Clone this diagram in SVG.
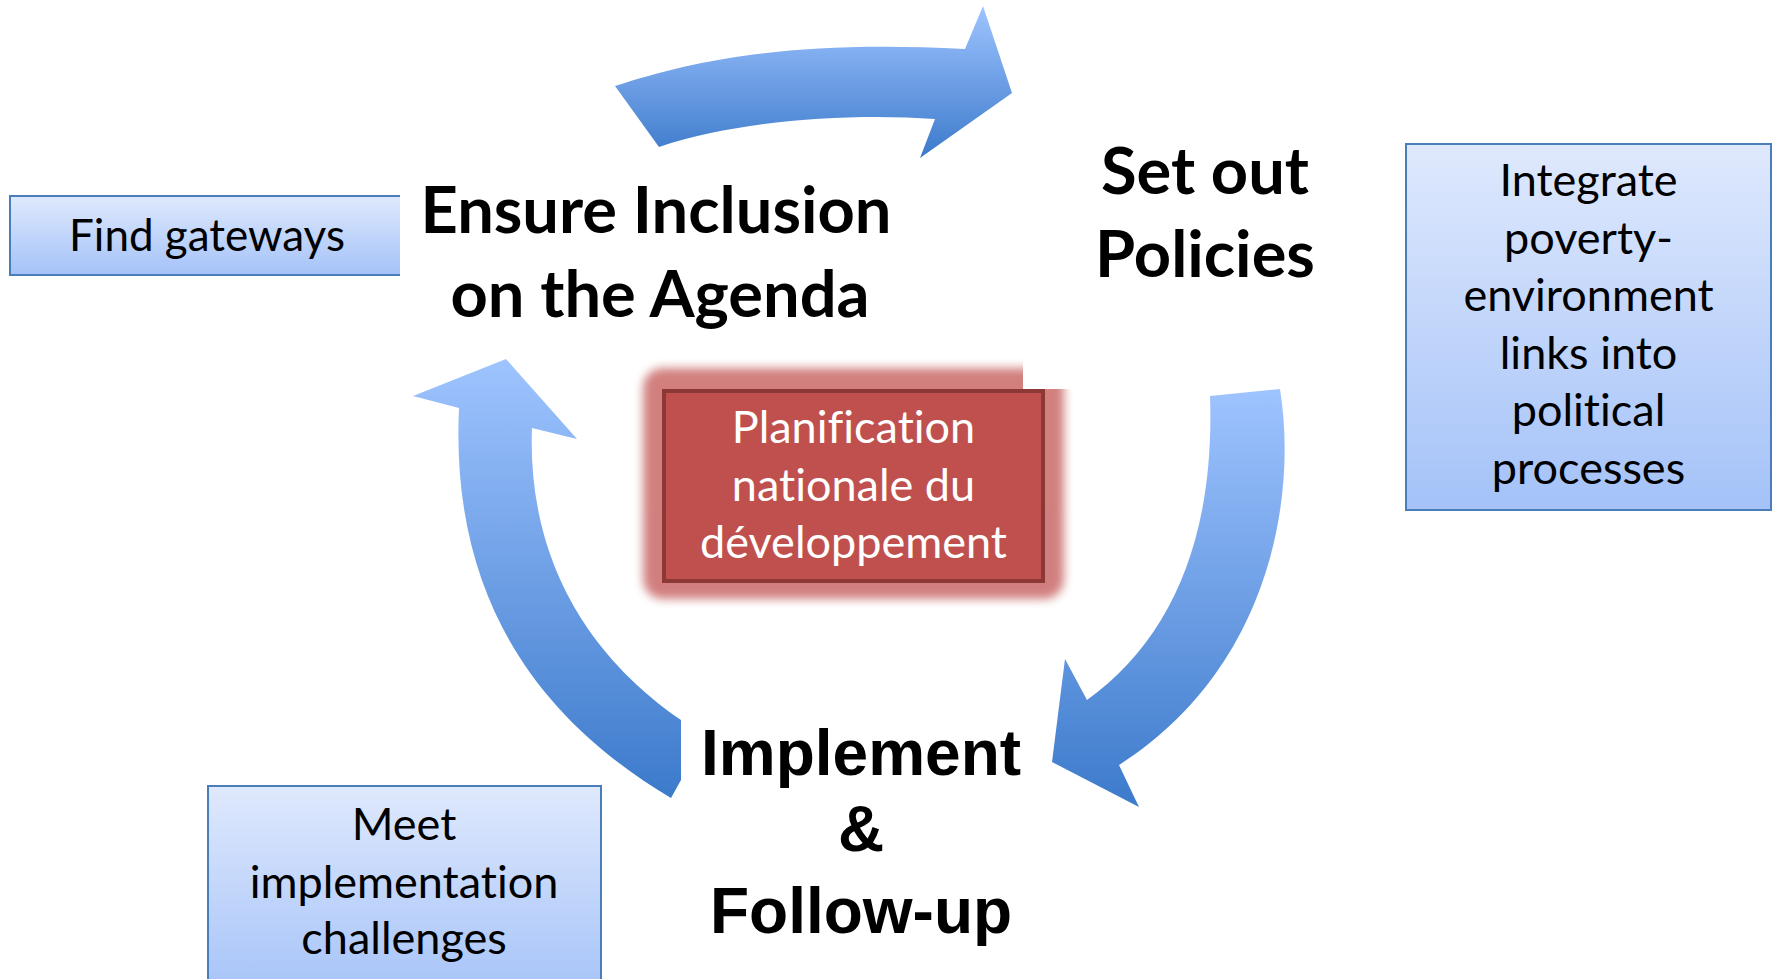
<svg xmlns="http://www.w3.org/2000/svg" width="1777" height="979" viewBox="0 0 1777 979">
  <defs>
    <linearGradient id="arrowFill" x1="0" y1="0" x2="0" y2="1">
      <stop offset="0" stop-color="#9FC4FF"/>
      <stop offset="1" stop-color="#3C7ACB"/>
    </linearGradient>
    <linearGradient id="noteFill" x1="0" y1="0" x2="0" y2="1">
      <stop offset="0" stop-color="#DFE9FD"/>
      <stop offset="1" stop-color="#A4C2F8"/>
    </linearGradient>
    <filter id="glowBlur" x="-20%" y="-30%" width="140%" height="160%">
      <feGaussianBlur stdDeviation="5"/>
    </filter>
    <clipPath id="glowClip">
      <polygon points="600,330 1023,330 1023,389 1120,389 1120,640 600,640"/>
    </clipPath>
    <style>
      .arrow { fill: url(#arrowFill); stroke: none; }
      .note { fill: url(#noteFill); }
      .noteEdge { fill: none; stroke: #4A7EBB; stroke-width: 2; }
      .title { font-family: Lato, "Liberation Sans", sans-serif; font-weight: 700; font-size: 65px; fill: #000; text-anchor: middle; }
      .stage { font-family: "Liberation Sans", Arial, sans-serif; font-weight: 700; font-size: 64px; fill: #000; text-anchor: middle; }
      .body { font-family: Lato, "Liberation Sans", sans-serif; font-size: 45px; fill: #000; text-anchor: middle; font-variant-ligatures: none; }
      .small { font-size: 44px; }
      .light { fill: #FFFFFF; }
    </style>
  </defs>

  <rect width="1777" height="979" fill="#FFFFFF"/>

  <!-- central planning box with soft red glow -->
  <g id="node-center">
    <rect x="643" y="368" width="421" height="231" rx="20" fill="#C0504D" opacity="0.72" filter="url(#glowBlur)" clip-path="url(#glowClip)"/>
    <rect x="664" y="391" width="379" height="190" fill="#C0504D" stroke="#8C3836" stroke-width="4"/>
    <text class="body light" x="853.5" y="443">Planification</text>
    <text class="body light" x="853.5" y="501">nationale du</text>
    <text class="body light" x="853.5" y="558">développement</text>
  </g>

  <!-- cycle arrows -->
  <g id="connectors">
    <path id="arrow-top" class="arrow" d="M615,86 C700,58 800,40 965,49 L983,6 L1012,93 L920,158 L935,119 C850,113 740,120 659,147 Z"/>
    <path id="arrow-right" class="arrow" d="M1210,396 L1280,389 C1298,500 1268,670 1119,765 L1139,807 L1052,762 L1065,659 L1087,700 C1170,640 1215,540 1210,396 Z"/>
    <path id="arrow-left" class="arrow" d="M506,359 L577,439 L532,428 C528,530 565,640 681,720 L681,780 L671,798 C540,720 450,600 459,408 L413,396 Z"/>
  </g>

  <g id="node-ensure">
    <text class="title" x="656" y="233">Ensure Inclusion</text>
    <text class="title" x="660" y="317">on the Agenda</text>
  </g>

  <g id="node-policies">
    <text class="title" x="1205" y="194">Set out</text>
    <text class="title" x="1205" y="277">Policies</text>
  </g>

  <g id="node-implement">
    <text class="stage" x="861" y="775">Implement</text>
    <text class="stage" x="861" y="851">&amp;</text>
    <text class="stage" x="861" y="933">Follow-up</text>
  </g>

  <g id="node-gateways">
    <rect class="note" x="9" y="196" width="391" height="79"/>
    <polyline class="noteEdge" points="400,196 10,196 10,275 400,275"/>
    <text class="body small" x="207" y="251">Find gateways</text>
  </g>

  <g id="node-integrate">
    <rect class="note" x="1406" y="144" width="365" height="366"/>
    <rect class="noteEdge" x="1406" y="144" width="365" height="366"/>
    <text class="body" x="1588.5" y="196">Integrate</text>
    <text class="body" x="1588.5" y="253.5">poverty-</text>
    <text class="body" x="1588.5" y="311">environment</text>
    <text class="body" x="1588.5" y="368.5">links into</text>
    <text class="body" x="1588.5" y="426">political</text>
    <text class="body" x="1588.5" y="483.5">processes</text>
  </g>

  <g id="node-challenges">
    <rect class="note" x="208" y="786" width="393" height="214"/>
    <polyline class="noteEdge" points="208,1000 208,786 601,786 601,1000"/>
    <text class="body" x="404" y="840">Meet</text>
    <text class="body" x="404" y="898">implementation</text>
    <text class="body" x="404" y="954">challenges</text>
  </g>
</svg>
